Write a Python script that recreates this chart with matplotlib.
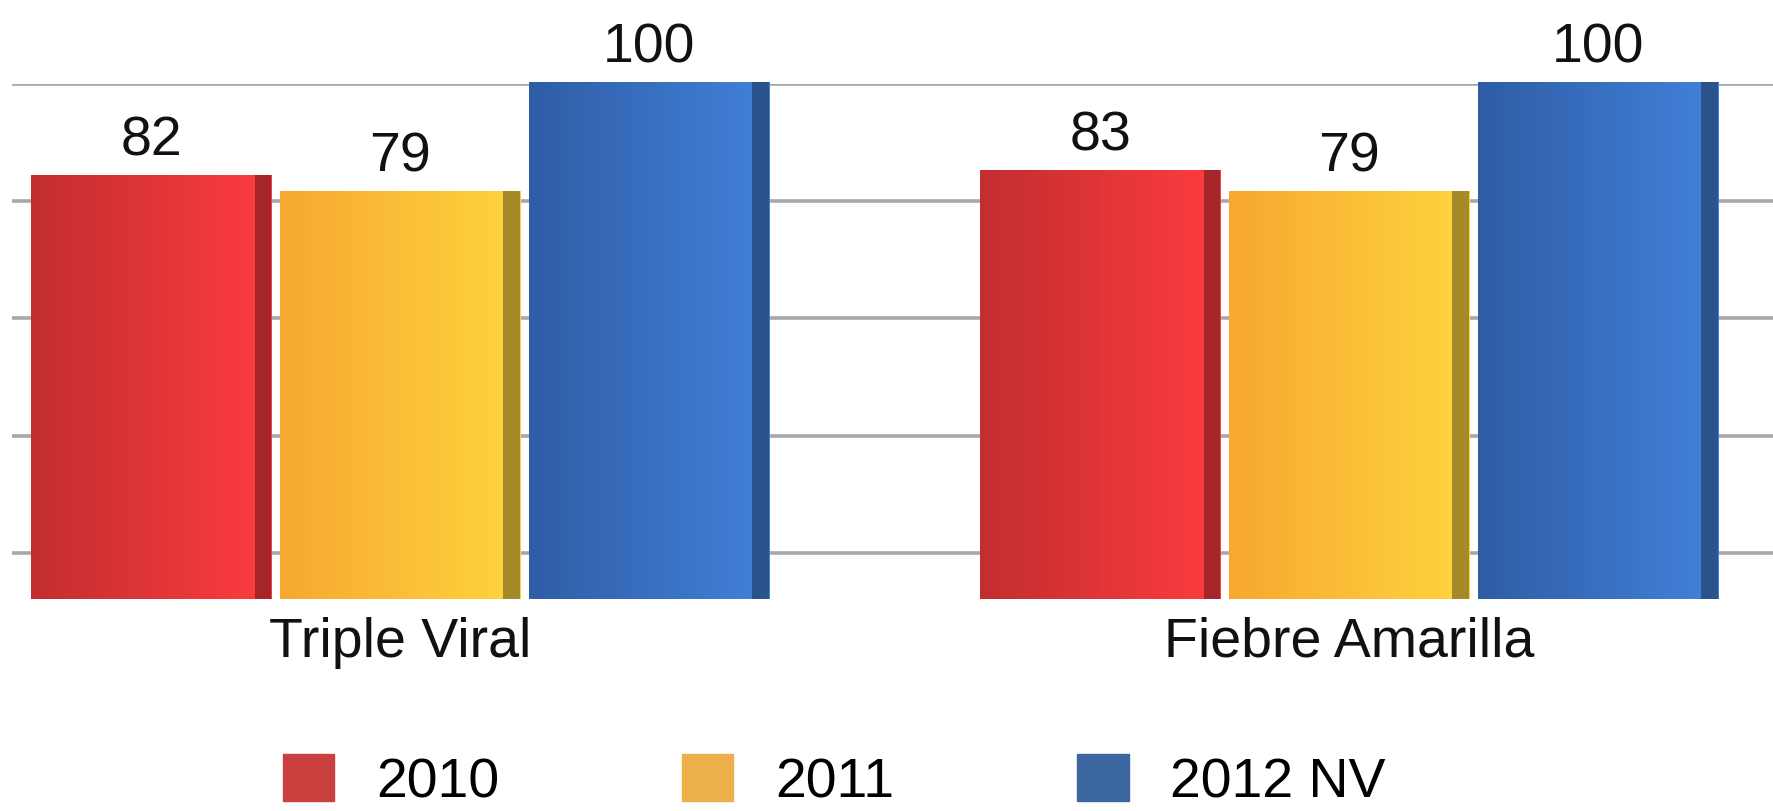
import numpy as np
import matplotlib
matplotlib.use("Agg")
import matplotlib.pyplot as plt
from matplotlib.colors import LinearSegmentedColormap

plt.rcParams['font.family'] = ['Liberation Sans', 'DejaVu Sans']

# data
categories = ["Triple Viral", "Fiebre Amarilla"]
series = ["2010", "2011", "2012 NV"]
values = {
    "2010": [82, 83],
    "2011": [79, 79],
    "2012 NV": [100, 100],
}
wall_ticks = [20, 40, 60, 80, 100]

legend_colors = ["#C9403E", "#EEB04A", "#3C67A0"]
dark_colors = ["#C22E30", "#F7A830", "#2F5DA6"]
light_colors = ["#FF3C3F", "#FFD53F", "#4282DA"]

W, H = 1773, 812
fig = plt.figure(figsize=(W / 100, H / 100), dpi=100)

# back wall with the grid lines
wall = fig.add_axes([12 / W, (H - 671) / H, 1 - 12 / W, (671 - 85) / H])
wall.set_ylim(0, 100)
wall.set_xlim(0, 1)
for t in wall_ticks:
    wall.axhline(t, color="#A8A8A8", lw=2.6, zorder=1)
wall.axis("off")

# bars in front
ax = fig.add_axes([0, (H - 600) / H, 1, (600 - 83) / H])
ax.patch.set_alpha(0)
ax.set_ylim(0, 100)
ax.set_xlim(-400 / 949, (W - 400) / 949)

x = np.arange(len(categories))
step = 0.262
width = 0.253
for i, s in enumerate(series):
    bars = ax.bar(x + (i - 1) * step, values[s], width, color=dark_colors[i],
                  zorder=3)
    cmap = LinearSegmentedColormap.from_list("g%d" % i, [dark_colors[i], light_colors[i]])
    grad = np.linspace(0, 1, 256).reshape(1, -1)
    for b in bars:
        x0, w, h = b.get_x(), b.get_width(), b.get_height()
        im = ax.imshow(grad, cmap=cmap, aspect="auto", extent=(x0, x0 + w, 0, h),
                       zorder=4, interpolation="bicubic")
        im.set_clip_path(b)
        # darker side face
        ax.bar(x0 + w * 0.93, h, w * 0.07, align="edge",
               color="#000000", alpha=0.35, zorder=5, linewidth=0)
    ax.bar_label(bars, labels=[str(v) for v in values[s]], padding=6,
                 fontsize=40, color="#111111")

ax.set_xticks(x)
ax.set_xticklabels(categories, fontsize=40, color="#111111")
ax.tick_params(axis="x", length=0, pad=12)
ax.tick_params(axis="y", left=False, labelleft=False)
for sp in ax.spines.values():
    sp.set_visible(False)

handles = [plt.Rectangle((0, 0), 1, 1, color=c) for c in legend_colors]
fig.legend(handles, series, loc="upper left", bbox_to_anchor=(283 / W, 1 - 755 / H),
           ncol=3, frameon=False, fontsize=40, handlelength=0.92, handleheight=0.92,
           handletextpad=0.75, columnspacing=3.3, borderpad=0, borderaxespad=0)

fig.savefig("out.png", dpi=100)
